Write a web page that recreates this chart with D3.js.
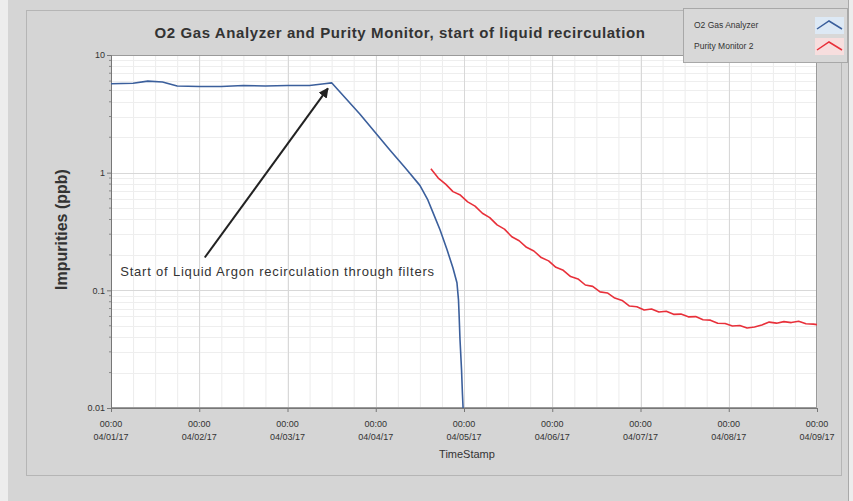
<!DOCTYPE html>
<html>
<head>
<meta charset="utf-8">
<script src="https://cdn.jsdelivr.net/npm/d3@7"></script>
<style>
  html, body { margin: 0; padding: 0; background: #ededed; }
  svg { display: block; }
</style>
</head>
<body>
<svg id="chart" width="853" height="501"></svg>
<script>
// O2 analyzer readings (ppb)
const analyzerTimes = [
  "2017-04-01 00:00", "2017-04-01 06:00", "2017-04-01 10:00", "2017-04-01 14:00",
  "2017-04-01 18:00", "2017-04-02 00:00", "2017-04-02 06:00", "2017-04-02 12:00",
  "2017-04-02 18:00", "2017-04-03 00:00", "2017-04-03 06:00", "2017-04-03 10:00",
  "2017-04-03 12:00", "2017-04-03 19:40", "2017-04-04 03:50", "2017-04-04 08:00",
  "2017-04-04 12:00", "2017-04-04 14:10", "2017-04-04 15:36", "2017-04-04 17:30",
  "2017-04-04 19:25", "2017-04-04 21:00", "2017-04-04 22:05", "2017-04-04 22:30",
  "2017-04-04 22:40", "2017-04-04 22:55", "2017-04-04 23:20", "2017-04-04 23:35",
  "2017-04-04 23:45"
];
const analyzerValues = [
  5.7, 5.75, 6.0, 5.9,
  5.45, 5.4, 5.4, 5.5,
  5.45, 5.5, 5.5, 5.7,
  5.8, 3.15, 1.56, 1.1,
  0.78, 0.586, 0.455, 0.326,
  0.22, 0.155, 0.116, 0.083,
  0.062, 0.038, 0.021, 0.013,
  0.0098
];

// Purity monitor 2 readings (ppb)
const monitorTimes = [
  "2017-04-04 15:00", "2017-04-04 17:00", "2017-04-04 19:00", "2017-04-04 21:00", "2017-04-04 23:00",
  "2017-04-05 01:00", "2017-04-05 03:00", "2017-04-05 05:00", "2017-04-05 07:00", "2017-04-05 09:00", "2017-04-05 11:00",
  "2017-04-05 13:00", "2017-04-05 15:00", "2017-04-05 17:00", "2017-04-05 19:00", "2017-04-05 21:00", "2017-04-05 23:00",
  "2017-04-06 01:00", "2017-04-06 03:00", "2017-04-06 05:00", "2017-04-06 07:00", "2017-04-06 09:00", "2017-04-06 11:00",
  "2017-04-06 13:00", "2017-04-06 15:00", "2017-04-06 17:00", "2017-04-06 19:00", "2017-04-06 21:00", "2017-04-06 23:00",
  "2017-04-07 01:00", "2017-04-07 03:00", "2017-04-07 05:00", "2017-04-07 07:00", "2017-04-07 09:00", "2017-04-07 11:00",
  "2017-04-07 13:00", "2017-04-07 15:00", "2017-04-07 17:00", "2017-04-07 19:00", "2017-04-07 21:00", "2017-04-07 23:00",
  "2017-04-08 01:00", "2017-04-08 03:00", "2017-04-08 05:00", "2017-04-08 07:00", "2017-04-08 09:00", "2017-04-08 11:00",
  "2017-04-08 13:00", "2017-04-08 15:00", "2017-04-08 17:00", "2017-04-08 19:00", "2017-04-08 21:00", "2017-04-08 23:00",
  "2017-04-09 00:00"
];
const monitorValues = [
  1.08, 0.90, 0.80, 0.69, 0.645,
  0.565, 0.52, 0.452, 0.415, 0.36, 0.331,
  0.285, 0.264, 0.232, 0.216, 0.19, 0.178,
  0.157, 0.148, 0.131, 0.125, 0.111, 0.108,
  0.097, 0.095, 0.086, 0.082, 0.0735, 0.0725,
  0.068, 0.0695, 0.0655, 0.0665, 0.0625, 0.0628,
  0.0595, 0.0598, 0.0562, 0.0558, 0.0525, 0.0522,
  0.0498, 0.0503, 0.0479, 0.0488, 0.0508, 0.0537,
  0.0526, 0.0542, 0.0532, 0.0546, 0.052, 0.0516,
  0.0511
];

const xTickDates = [
  "2017-04-01 00:00", "2017-04-02 00:00", "2017-04-03 00:00", "2017-04-04 00:00", "2017-04-05 00:00",
  "2017-04-06 00:00", "2017-04-07 00:00", "2017-04-08 00:00", "2017-04-09 00:00"
];
const yTickValues = [0.01, 0.1, 1, 10];
const yTickLabels = ["0.01", "0.1", "1", "10"];

const seriesNames = ["O2 Gas Analyzer", "Purity Monitor 2"];
const seriesColors = ["#3b5f9c", "#e8303a"];
const seriesFills = ["#dde9f5", "#f7dede"];

const parse = d3.timeParse("%Y-%m-%d %H:%M");
const svg = d3.select("#chart");
const FONT = "Liberation Sans, Arial, sans-serif";

// background panels
svg.append("rect").attr("x", 8).attr("y", 0).attr("width", 840).attr("height", 501).attr("fill", "#d5d5d5");
svg.append("rect").attr("x", 26.5).attr("y", 10.5).attr("width", 815).attr("height", 465)
  .attr("fill", "#d5d5d5").attr("stroke", "#b5b5b5");
svg.append("line").attr("x1", 848.5).attr("x2", 848.5).attr("y1", 0).attr("y2", 501).attr("stroke", "#a9a9a9");

const plot = { left: 111, right: 817, top: 55, bottom: 408 };

const x = d3.scaleTime()
  .domain([parse(xTickDates[0]), parse(xTickDates[xTickDates.length - 1])])
  .range([plot.left, plot.right]);
const y = d3.scaleLog().domain([0.01, 10]).range([plot.bottom, plot.top]).clamp(true);

svg.append("rect").attr("x", plot.left).attr("y", plot.top)
  .attr("width", plot.right - plot.left).attr("height", plot.bottom - plot.top).attr("fill", "#ffffff");

// grid
const grid = svg.append("g");
const minorTimes = d3.timeHour.every(6).range(x.domain()[0], x.domain()[1]);
grid.selectAll(".vminor").data(minorTimes).join("line")
  .attr("x1", d => x(d) + 0.5).attr("x2", d => x(d) + 0.5)
  .attr("y1", plot.top).attr("y2", plot.bottom)
  .attr("stroke", "#ececec");
const minorY = [];
[0.01, 0.1, 1].forEach(b => { for (let m = 2; m <= 9; m++) minorY.push(b * m); });
grid.selectAll(".hminor").data(minorY).join("line")
  .attr("x1", plot.left).attr("x2", plot.right)
  .attr("y1", d => Math.round(y(d)) + 0.5).attr("y2", d => Math.round(y(d)) + 0.5)
  .attr("stroke", "#eeeeee");
grid.selectAll(".vmajor").data(xTickDates.map(parse)).join("line")
  .attr("x1", d => Math.round(x(d)) + 0.5).attr("x2", d => Math.round(x(d)) + 0.5)
  .attr("y1", plot.top).attr("y2", plot.bottom)
  .attr("stroke", "#d8d8d8");
grid.selectAll(".hmajor").data(yTickValues).join("line")
  .attr("x1", plot.left).attr("x2", plot.right)
  .attr("y1", d => Math.round(y(d)) + 0.5).attr("y2", d => Math.round(y(d)) + 0.5)
  .attr("stroke", "#d8d8d8");

// plot frame
svg.append("rect").attr("x", plot.left + 0.5).attr("y", plot.top + 0.5)
  .attr("width", plot.right - plot.left - 1).attr("height", plot.bottom - plot.top - 1)
  .attr("fill", "none").attr("stroke", "#9a9a9a");

// y axis
const yAxis = d3.axisLeft(y).tickValues(yTickValues)
  .tickFormat((d, i) => yTickLabels[i]).tickSize(4).tickPadding(2);
const yg = svg.append("g").attr("transform", `translate(${plot.left},0)`).call(yAxis);
yg.select(".domain").attr("stroke", "#777");
yg.selectAll(".tick line").attr("stroke", "#777");
yg.selectAll("text").attr("font-family", FONT).attr("font-size", 9).attr("fill", "#333");
svg.append("g").selectAll("line").data(minorY).join("line")
  .attr("x1", plot.left - 2).attr("x2", plot.left)
  .attr("y1", d => y(d)).attr("y2", d => y(d)).attr("stroke", "#888");

// x axis
const fmtTime = d3.timeFormat("%H:%M");
const fmtDate = d3.timeFormat("%m/%d/%y");
const xAxis = d3.axisBottom(x).tickValues(xTickDates.map(parse)).tickSize(4).tickFormat("");
const xg = svg.append("g").attr("transform", `translate(0,${plot.bottom})`).call(xAxis);
xg.select(".domain").attr("stroke", "#777");
xg.selectAll(".tick line").attr("stroke", "#777");
const xl = svg.append("g").selectAll("g").data(xTickDates.map(parse)).join("g")
  .attr("transform", d => `translate(${x(d)},0)`);
xl.append("text").attr("y", 427).attr("text-anchor", "middle")
  .attr("font-family", FONT).attr("font-size", 9).attr("fill", "#333")
  .text(d => fmtTime(d));
xl.append("text").attr("y", 440).attr("text-anchor", "middle")
  .attr("font-family", FONT).attr("font-size", 9).attr("fill", "#333")
  .text(d => fmtDate(d));

svg.append("text").attr("x", (plot.left + plot.right) / 2 + 3).attr("y", 458)
  .attr("text-anchor", "middle").attr("font-family", FONT)
  .attr("font-size", 11).attr("fill", "#333").text("TimeStamp");

svg.append("text").attr("transform", `translate(67,${(plot.top + plot.bottom) / 2 - 2}) rotate(-90)`)
  .attr("text-anchor", "middle").attr("font-family", FONT)
  .attr("font-size", 16).attr("font-weight", "bold").attr("fill", "#333").text("Impurities (ppb)");

svg.append("text").attr("x", 400).attr("y", 38).attr("text-anchor", "middle")
  .attr("font-family", FONT).attr("font-size", 15)
  .attr("font-weight", "bold").attr("letter-spacing", 0.6).attr("fill", "#333")
  .text("O2 Gas Analyzer and Purity Monitor, start of liquid recirculation");

// series
const line = d3.line().x(d => x(d[0])).y(d => y(d[1]));
svg.append("clipPath").attr("id", "plotclip").append("rect")
  .attr("x", plot.left).attr("y", plot.top).attr("width", plot.right - plot.left).attr("height", plot.bottom - plot.top);
const series = [
  analyzerTimes.map((t, i) => [parse(t), analyzerValues[i]]),
  monitorTimes.map((t, i) => [parse(t), monitorValues[i]])
];
svg.append("g").attr("clip-path", "url(#plotclip)").selectAll("path").data(series).join("path")
  .attr("d", line).attr("fill", "none")
  .attr("stroke", (d, i) => seriesColors[i]).attr("stroke-width", 1.6)
  .attr("stroke-linejoin", "round");

// annotation
const defs = svg.append("defs");
defs.append("marker").attr("id", "arrowhead").attr("viewBox", "0 0 10 10")
  .attr("refX", 9).attr("refY", 5).attr("markerWidth", 5).attr("markerHeight", 5)
  .attr("orient", "auto").append("path").attr("d", "M0,0 L10,5 L0,10 z").attr("fill", "#222");
const tail = [parse("2017-04-02 01:30"), 0.19];
const tip = [parse("2017-04-03 11:00"), 5.2];
svg.append("line").attr("x1", x(tail[0])).attr("y1", y(tail[1]))
  .attr("x2", x(tip[0])).attr("y2", y(tip[1]))
  .attr("stroke", "#222").attr("stroke-width", 2).attr("marker-end", "url(#arrowhead)");
svg.append("text").attr("x", x(parse("2017-04-01 02:30"))).attr("y", 276)
  .attr("font-family", FONT).attr("font-size", 13).attr("letter-spacing", 0.8).attr("fill", "#333")
  .text("Start of Liquid Argon recirculation through filters");

// legend
const lg = svg.append("g");
lg.append("rect").attr("x", 683.5).attr("y", 8.5).attr("width", 164).attr("height", 54)
  .attr("fill", "#d8d8d8").attr("stroke", "#a8a8a8");
seriesNames.forEach((name, i) => {
  const yy = 17 + i * 21;
  lg.append("text").attr("x", 694).attr("y", yy + 11).attr("font-family", FONT)
    .attr("font-size", 8.5).attr("fill", "#333").text(name);
  lg.append("rect").attr("x", 815).attr("y", yy).attr("width", 29).attr("height", 17)
    .attr("fill", seriesFills[i]);
  lg.append("path").attr("d", `M817,${yy + 12} L829,${yy + 4} L842,${yy + 12}`)
    .attr("fill", "none").attr("stroke", seriesColors[i]).attr("stroke-width", 1.5);
});
</script>
</body>
</html>
